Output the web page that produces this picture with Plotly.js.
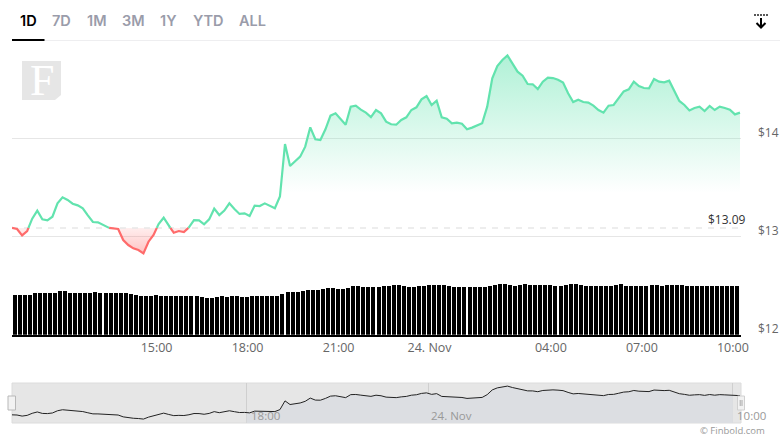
<!DOCTYPE html>
<html>
<head>
<meta charset="utf-8">
<script src="https://cdn.plot.ly/plotly-3.0.1.min.js"></script>
<style>html,body{margin:0;padding:0;background:#fff}#c{width:780px;height:436px}</style>
</head>
<body>
<div id="c"></div>
<script>
const openingPrice = 13.09;
const openingLabel = "$13.09";
const firstPriceTime = "2022-11-23T10:16:00Z";
const firstVolumeTime = "2022-11-23T10:21:00Z";
const axisStart = "2022-11-23 10:16";
const axisEnd = "2022-11-24 10:18";
const stepMinutes = 10;

const prices = [
13.09,13.079,13.014,13.058,13.184,13.266,13.177,13.167,13.204,13.340,
13.402,13.375,13.337,13.320,13.290,13.218,13.150,13.147,13.119,13.092,
13.082,13.079,12.966,12.915,12.881,12.864,12.830,12.949,13.017,13.130,
13.194,13.113,13.041,13.058,13.048,13.095,13.170,13.167,13.126,13.177,
13.286,13.221,13.266,13.340,13.283,13.232,13.238,13.211,13.317,13.313,
13.340,13.313,13.290,13.410,13.946,13.721,13.766,13.817,13.919,14.116,
13.994,13.987,14.096,14.235,14.259,14.201,14.143,14.327,14.337,14.296,
14.266,14.221,14.293,14.259,14.174,14.147,14.143,14.191,14.218,14.293,
14.320,14.402,14.436,14.344,14.388,14.218,14.204,14.157,14.164,14.153,
14.096,14.113,14.133,14.157,14.327,14.616,14.742,14.803,14.850,14.762,
14.684,14.643,14.558,14.555,14.507,14.582,14.623,14.619,14.602,14.572,
14.463,14.374,14.398,14.374,14.368,14.337,14.293,14.266,14.337,14.344,
14.412,14.483,14.504,14.582,14.538,14.517,14.514,14.609,14.582,14.575,
14.592,14.480,14.385,14.344,14.289,14.313,14.327,14.283,14.334,14.293,
14.327,14.313,14.296,14.248,14.266];

const volumes = [
40,40,40,40,41.3,41.7,42,41.3,42,43.7,43.3,42,42,42,42,42,
42.7,42,41.3,41.3,41.3,41.3,41.3,40.7,39.3,39,39,39,39.3,39,39,39,
39,38.3,38.3,38.3,38.3,37.7,37,37,38,38.3,37.7,39,38.7,38,38,
38.3,38.3,38.3,38.3,38.3,38.3,40.7,43,43,42.3,43.7,45,45,45,45.7,46.7,46.7,46,46,47,
49,48.3,48,48,48,48,49,49,50,49.3,49,48,48,48.7,48.5,49.7,49.3,50,49.3,
48.3,48,48,48,47.7,48,48,47.7,48.3,50,50.7,
50.7,49.5,49,50,50.3,50,49.5,50,49.3,49.5,49,49,49.5,50.7,50.7,49.5,49,48.7,48.7,49,49,48.8,49.3,
50.3,49,49,48.8,48.8,49,50,49.8,49,49.5,50.2,50,49.6,49,48.6,48.5,48.4,48.3,48.3,48.3,48.3,48.3,48.3,48.3,48.3];

const tabLabels = ["1D","7D","1M","3M","1Y","YTD","ALL"];
const tabCenters = [28.7,62,97,133.5,168,208,252];
const xTickValues = ["2022-11-23 15:00","2022-11-23 18:00","2022-11-23 21:00","2022-11-24 00:00","2022-11-24 04:00","2022-11-24 07:00","2022-11-24 10:00"];
const xTickLabels = ["15:00","18:00","21:00","24. Nov","04:00","07:00","10:00"];
const yTickValues = [12,13,14];
const yTickLabels = ["$12","$13","$14"];
const navTickValues = ["2022-11-23 18:00","2022-11-24 00:00","2022-11-24 10:02"];
const navTickLabels = ["18:00","24. Nov","10:00"];

const W=780,H=436;
const px=x=>x/W, py=y=>1-y/H;
const MS=60000;
const t0=Date.parse(firstPriceTime), v0=Date.parse(firstVolumeTime);
const times=prices.map((_,i)=>t0+i*stepMinutes*MS);
const volTimes=volumes.map((_,i)=>v0+i*stepMinutes*MS);

const sx=[],greenY=[],redY=[],fillG=[],fillR=[];
prices.forEach((p,i)=>{
  if(i>0){
    const q=prices[i-1];
    if((q-openingPrice)*(p-openingPrice)<0){
      const f=(openingPrice-q)/(p-q);
      const tc=times[i-1]+f*(times[i]-times[i-1]);
      sx.push(tc);greenY.push(openingPrice);redY.push(openingPrice);fillG.push(openingPrice);fillR.push(openingPrice);
    }
  }
  sx.push(times[i]);
  greenY.push(p>=openingPrice?p:null);
  redY.push(p<=openingPrice?p:null);
  fillG.push(Math.max(p,openingPrice));
  fillR.push(Math.min(p,openingPrice));
});
const baseX=[times[0],times[times.length-1]];
const baseY=[openingPrice,openingPrice];
const dashX=[Date.parse(axisStart.replace(' ','T')+'Z'),Date.parse(axisEnd.replace(' ','T')+'Z')];

const navStart=Date.parse("2022-11-23T18:00:00Z"),navEnd=Date.parse("2022-11-24T10:02:00Z");
const navX=[navStart],navY=[];
times.forEach((t,i)=>{if(t>=navStart&&t<=navEnd){navX.push(t);navY.push(prices[i]);}});
navY.unshift(navY[0]);navX.push(navEnd);navY.push(navY[navY.length-1]);

const green="#62e3ae",red="#ff6b6b";
const hidden={color:'rgba(0,0,0,0)',width:0};
const data=[
 {x:baseX,y:baseY,mode:'lines',line:hidden,xaxis:'x',yaxis:'y',hoverinfo:'skip',showlegend:false},
 {x:sx,y:fillR,mode:'lines',line:hidden,fill:'tonexty',fillcolor:'rgba(255,90,90,0.25)',xaxis:'x',yaxis:'y',hoverinfo:'skip',showlegend:false,
  fillgradient:{type:'vertical',start:13.09,stop:12.83,colorscale:[[0,'rgba(255,90,90,0.10)'],[1,'rgba(255,90,90,0.36)']]}},
 {x:baseX,y:baseY,mode:'lines',line:hidden,xaxis:'x',yaxis:'y',hoverinfo:'skip',showlegend:false},
 {x:sx,y:fillG,mode:'lines',line:hidden,fill:'tonexty',fillcolor:'rgba(98,227,174,0.25)',xaxis:'x',yaxis:'y',hoverinfo:'skip',showlegend:false,
  fillgradient:{type:'vertical',start:14.85,stop:13.45,colorscale:[[0,'rgba(98,227,174,0.5)'],[1,'rgba(98,227,174,0)']]}},
 {x:dashX,y:baseY,mode:'lines',line:{color:'#e8e8e8',width:1.5,dash:'6px,6px'},xaxis:'x',yaxis:'y',hoverinfo:'skip',showlegend:false},
 {x:sx,y:redY,mode:'lines',line:{color:red,width:2.2},xaxis:'x',yaxis:'y',hoverinfo:'skip',showlegend:false},
 {x:sx,y:greenY,mode:'lines',line:{color:green,width:2.2},xaxis:'x',yaxis:'y',hoverinfo:'skip',showlegend:false},
 {type:'bar',x:volTimes,y:volumes,width:7.9*MS,marker:{color:'#000',line:{width:0}},xaxis:'x',yaxis:'y3',hoverinfo:'skip',showlegend:false},
 {x:navX,y:navY,mode:'lines',line:hidden,fill:'tozeroy',fillcolor:'#dcdee2',xaxis:'x2',yaxis:'y2',hoverinfo:'skip',showlegend:false},
 {x:times,y:prices,mode:'lines',line:{color:'#222',width:1},xaxis:'x2',yaxis:'y2',hoverinfo:'skip',showlegend:false}
];

const tickFont={family:'"Open Sans",sans-serif',size:12.5,color:'#666'};
const yTickFont={family:'"Open Sans",sans-serif',size:12,color:'#666'};
const annotations=[];
tabLabels.forEach((t,i)=>annotations.push({xref:'paper',yref:'paper',x:px(tabCenters[i]),y:py(21),text:t,showarrow:false,xanchor:'center',yanchor:'middle',
  font:{family:'Inter,sans-serif',size:14.5,weight:600,color:i===0?'#000':'#9a9caa'}}));
yTickValues.forEach((v,i)=>annotations.push({xref:'paper',yref:'y',x:px(756),y:v,yshift:6.3,text:yTickLabels[i],showarrow:false,xanchor:'left',yanchor:'middle',font:yTickFont}));
annotations.push({xref:'paper',yref:'y',x:px(747.5),y:openingPrice,yshift:8,text:openingLabel,showarrow:false,xanchor:'right',yanchor:'middle',font:{family:'"Open Sans",sans-serif',size:12,color:'#333'}});
navTickValues.forEach((v,i)=>annotations.push({xref:'x2',yref:'paper',x:v,y:py(415),xshift:i===1?0.5:2.5,text:navTickLabels[i],showarrow:false,xanchor:'left',yanchor:'middle',font:{family:'"Open Sans",sans-serif',size:11.5,color:'#999'}}));
annotations.push({xref:'paper',yref:'paper',x:px(42),y:py(80),text:'F',showarrow:false,xanchor:'center',yanchor:'middle',font:{family:'"Liberation Serif",serif',size:44,color:'#fff'}});
annotations.push({xref:'paper',yref:'paper',x:px(767),y:py(430),text:'© Finbold.com',showarrow:false,xanchor:'right',yanchor:'middle',font:{family:'"Open Sans",sans-serif',size:9.5,color:'#999'}});

const P=(pts,close)=>'M'+pts.map(p=>px(p[0])+' '+py(p[1])).join(' L')+(close?' Z':'');
const rect=(x0,y0,x1,y1,o)=>Object.assign({type:'rect',xref:'paper',yref:'paper',x0:px(x0),x1:px(x1),y0:py(y0),y1:py(y1)},o);
const lin=(x0,y0,x1,y1,c,w,dash)=>({type:'line',xref:'paper',yref:'paper',x0:px(x0),x1:px(x1),y0:py(y0),y1:py(y1),line:{color:c,width:w,dash:dash||'solid'}});
const shapes=[
 lin(12,40.5,780,40.5,'#eeeef0',1),
 lin(12,40,44.5,40,'#000',2),
 {type:'path',xref:'paper',yref:'paper',path:P([[22,61],[61,61],[61,95],[55,100],[22,100]],true),fillcolor:'#e6e6e6',line:{width:0},layer:'below'},
 rect(12,383,741,423,{fillcolor:'#e6e6e6',line:{color:'#dcdcdc',width:1},layer:'below'}),
 rect(8,396,15.5,410,{fillcolor:'#f2f2f2',line:{color:'#b8b8b8',width:1}}),
 rect(737.5,396,744.5,410,{fillcolor:'#f2f2f2',line:{color:'#d0d0d0',width:1}}),
 lin(740.2,400,740.2,406,'#aaa',1),lin(742,400,742,406,'#aaa',1),
 lin(754,15,768,15,'#222',1.5,'2px,1px'),
 lin(761,18,761,27,'#000',2),
 {type:'path',xref:'paper',yref:'paper',path:P([[756.5,23],[761,27.5],[765.5,23]],false),line:{color:'#000',width:2}}
];

const layout={
 width:W,height:H,margin:{l:0,r:0,t:0,b:0,pad:0},paper_bgcolor:'#fff',plot_bgcolor:'rgba(0,0,0,0)',showlegend:false,bargap:0,
 xaxis:{type:'date',domain:[px(12),px(741)],range:[axisStart,axisEnd],anchor:'y',tickmode:'array',tickvals:xTickValues,ticktext:xTickLabels,tickangle:0,ticklabelshift:1,
   showgrid:false,zeroline:false,showline:true,linecolor:'#000',linewidth:2,ticks:'',tickfont:tickFont},
 yaxis:{domain:[py(334.7),py(40.7)],range:[12,15],anchor:'x',tickmode:'array',tickvals:yTickValues,showticklabels:false,gridcolor:'#e6e6e6',gridwidth:1,zeroline:false,showline:false,ticks:''},
 yaxis3:{domain:[py(334.7),py(274.7)],range:[0,60],anchor:'x',visible:false,fixedrange:true},
 xaxis2:{type:'date',domain:[px(12),px(741)],range:[axisStart,axisEnd],anchor:'y2',tickmode:'array',tickvals:navTickValues,showticklabels:false,
   showgrid:true,gridcolor:'#cfcfcf',gridwidth:1,zeroline:false,showline:false,ticks:''},
 yaxis2:{domain:[py(423),py(383)],range:[12.59,15.04],anchor:'x2',visible:false},
 annotations,shapes
};
Plotly.newPlot('c',data,layout,{staticPlot:true,displayModeBar:false,responsive:false});
</script>
</body>
</html>
